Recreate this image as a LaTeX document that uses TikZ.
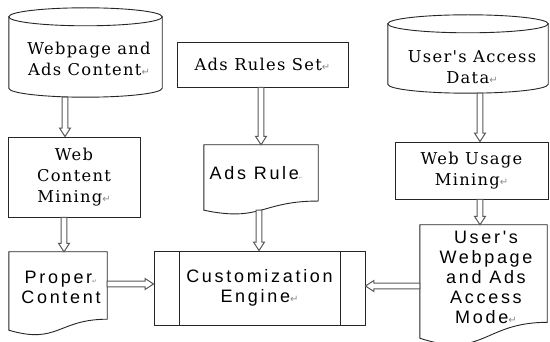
\documentclass[tikz,border=0pt]{standalone}
\usepackage{fontspec}
\usetikzlibrary{calc}
\newfontfamily\boxfont{DejaVu Serif}[LetterSpace=8]
\newfontfamily\docfont{Liberation Sans}[LetterSpace=15]
\newfontfamily\markfont{DejaVu Sans}
% paragraph mark printed after the labels
\newcommand\pmark[1][10]{{\markfont\fontsize{#1}{#1}\selectfont\color{black!45}↵}}
% document symbol: flat top, wavy bottom
\newcommand\docoutline[1]{%
  \draw[outline] (#1.south west) -- (#1.north west) -- (#1.north east)
    -- ($(#1.north east)!0.86!(#1.south east)$)
    .. controls ($(#1.north)!0.86!(#1.south)$) and ($(#1.north)!1.185!(#1.south)$)
    .. (#1.south west) -- cycle;}
% database cylinder with top ellipse of half-height #2
\newcommand\cylinderoutline[2]{%
  \draw[outline] let \p1=(#1.north west), \p2=(#1.north east) in
    ($(#1.north)+(0,#2)$) ellipse [x radius={(\x2-\x1)/2}, y radius=#2pt];
  \draw[outline] let \p1=(#1.north west), \p2=(#1.north east) in
    ($(#1.north west)+(0,#2)$) -- ($(#1.south west)+(0,-#2)$)
    arc[start angle=180, end angle=360, x radius={(\x2-\x1)/2}, y radius=#2pt]
    -- ($(#1.north east)+(0,#2)$);}
\tikzset{
  outline/.style={draw=black!85, line width=0.9pt},
  area/.style={rectangle, inner sep=0pt},
  frame/.style={area, outline},
  serifbox/.style={font=\boxfont\fontsize{16.3}{21}\selectfont, align=center, inner sep=0pt},
  sanstext/.style={font=\docfont\fontsize{18}{20}\selectfont, align=center, inner sep=0pt},
  hollowarrow/.style={draw=black!65, line width=1pt, fill=white, line join=miter,
    to path={let \p1=(\tikztostart), \p2=(\tikztotarget), \p3=($(\p2)!8.5pt!(\p1)$) in
      ($(\p1)!2.8pt!90:(\p2)$) -- ($(\p3)!2.8pt!-90:(\p1)$) -- ($(\p3)!5.5pt!-90:(\p1)$)
      -- (\p2) -- ($(\p3)!5.5pt!90:(\p1)$) -- ($(\p3)!2.8pt!90:(\p1)$)
      -- ($(\p1)!2.8pt!-90:(\p2)$) -- cycle}}
}
\begin{document}
\begin{tikzpicture}[x=1pt, y=-1pt]
\useasboundingbox (0,0) rectangle (550,342);
\fill[white] (0,0) rectangle (550,342);

% sources
\node[area, minimum width=153pt, minimum height=89pt] (cyl1) at (85.5,52.5) {};
\cylinderoutline{cyl1}{9}
\node[serifbox] (cyl1text) at (89,59) {Webpage and\\Ads Content\pmark};

\node[frame, serifbox, minimum width=171pt, minimum height=45pt] (ars) at (262.5,64.5) {Ads Rules Set\pmark};

\node[area, minimum width=160pt, minimum height=78pt] (cyl2) at (468,54) {};
\cylinderoutline{cyl2}{9}
\node[serifbox] (cyl2text) at (472,67) {User's Access\\Data\pmark};

% mining steps
\node[frame, serifbox, minimum width=132pt, minimum height=80pt] (wcm) at (74,177) {Web\\Content\\Mining\pmark};
\node[frame, serifbox, minimum width=153pt, minimum height=57pt] (wum) at (471.5,170.5) {Web Usage\\Mining\pmark};

% documents
\node[area, minimum width=114pt, minimum height=65pt] (adsrule) at (261,177.5) {};
\docoutline{adsrule}
\node[sanstext] (adsruletext) at (256,173) {Ads Rule\pmark[4]};

\node[area, minimum width=98pt, minimum height=78pt] (proper) at (58,291) {};
\docoutline{proper}
\node[sanstext] (propertext) at (61,287) {Proper\pmark[6]\\Content};

\node[area, minimum width=127pt, minimum height=113pt] (userdoc) at (483.5,281.5) {};
\docoutline{userdoc}
\node[sanstext] (userdoctext) at (486,277) {User's\\Webpage\\and Ads\\Access\\Mode\pmark};

% engine
\node[frame, sanstext, minimum width=211pt, minimum height=74pt] (eng) at (259.5,288) {Customization\\Engine\pmark};
\draw[outline] ([xshift=26pt]eng.north west) -- ([xshift=26pt]eng.south west);
\draw[outline] ([xshift=-25pt]eng.north east) -- ([xshift=-25pt]eng.south east);

% data flow
\draw[hollowarrow] (65,0 |- cyl1.south) to (65,0 |- wcm.north);
\draw[hollowarrow] (64,0 |- wcm.south) to (64,0 |- proper.north);
\draw[hollowarrow] (261,0 |- ars.south) to (261,0 |- adsrule.north);
\draw[hollowarrow] (259,0 |- adsrule.south) to (259,0 |- eng.north);
\draw[hollowarrow] (480,0 |- cyl2.south) to (480,0 |- wum.north);
\draw[hollowarrow] (480,0 |- wum.south) to (480,0 |- userdoc.north);
\draw[hollowarrow] (proper.east |- 0,284) to (eng.west |- 0,284);
\draw[hollowarrow] (userdoc.west |- 0,286) to (eng.east |- 0,286);
\end{tikzpicture}
\end{document}
